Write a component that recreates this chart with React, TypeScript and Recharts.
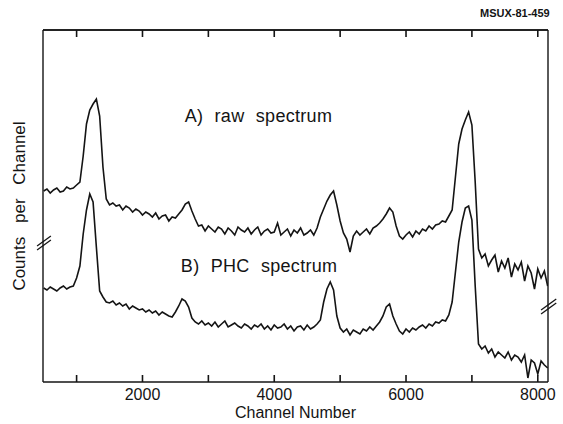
import { LineChart, Line, XAxis, YAxis, ReferenceLine, ReferenceDot } from "recharts";

// channel grid (every 50 channels)
const channels = [
  500, 550, 600, 650, 700, 750, 800, 850, 900, 950,
  1000, 1050, 1100, 1150, 1200, 1250, 1300, 1350, 1400, 1450,
  1500, 1550, 1600, 1650, 1700, 1750, 1800, 1850, 1900, 1950,
  2000, 2050, 2100, 2150, 2200, 2250, 2300, 2350, 2400, 2450,
  2500, 2550, 2600, 2650, 2700, 2750, 2800, 2850, 2900, 2950,
  3000, 3050, 3100, 3150, 3200, 3250, 3300, 3350, 3400, 3450,
  3500, 3550, 3600, 3650, 3700, 3750, 3800, 3850, 3900, 3950,
  4000, 4050, 4100, 4150, 4200, 4250, 4300, 4350, 4400, 4450,
  4500, 4550, 4600, 4650, 4700, 4750, 4800, 4850, 4900, 4950,
  5000, 5050, 5100, 5150, 5200, 5250, 5300, 5350, 5400, 5450,
  5500, 5550, 5600, 5650, 5700, 5750, 5800, 5850, 5900, 5950,
  6000, 6050, 6100, 6150, 6200, 6250, 6300, 6350, 6400, 6450,
  6500, 6550, 6600, 6650, 6700, 6750, 6800, 6850, 6900, 6950,
  7000, 7050, 7100, 7150, 7200, 7250, 7300, 7350, 7400, 7450,
  7500, 7550, 7600, 7650, 7700, 7750, 7800, 7850, 7900, 7950,
  8000, 8050, 8100, 8150,
];

// A) raw spectrum (arbitrary units, offset upward)
const rawCounts = [
  191, 193, 189, 192, 194, 190, 191, 195, 193, 194,
  197, 200, 226, 258, 272, 278, 283, 266, 215, 183,
  177, 179, 176, 177, 172, 176, 174, 170, 173, 171,
  167, 170, 168, 165, 169, 163, 166, 167, 161, 165,
  164, 168, 172, 178, 180, 171, 163, 156, 157, 151,
  156, 153, 150, 155, 153, 148, 154, 151, 147, 155,
  152, 150, 154, 148, 152, 155, 147, 151, 153, 149,
  150, 159, 147, 150, 153, 146, 152, 149, 154, 147,
  149, 152, 147, 154, 165, 173, 181, 187, 191, 177,
  161, 149, 143, 130, 146, 151, 147, 150, 153, 148,
  154, 156, 159, 163, 168, 174, 170, 156, 146, 143,
  147, 150, 145, 151, 148, 153, 151, 156, 153, 157,
  158, 161, 160, 166, 172, 205, 238, 253, 262, 270,
  257, 200, 133, 124, 128, 116, 122, 127, 110, 121,
  114, 124, 105, 118, 112, 120, 101, 116, 109, 93,
  113, 104, 111, 96,
];

// B) PHC spectrum
const phcCounts = [
  94, 92, 95, 93, 91, 94, 96, 93, 95, 96,
  104, 116, 148, 172, 188, 180, 135, 91, 85, 80,
  79, 81, 77, 79, 76, 78, 73, 76, 74, 72,
  73, 70, 72, 69, 71, 67, 70, 68, 66, 65,
  70, 76, 83, 81, 75, 64, 60, 58, 61, 57,
  59, 56, 60, 55, 58, 61, 55, 57, 59, 56,
  54, 58, 56, 53, 57, 55, 58, 53, 56, 52,
  57, 54, 55, 58, 53, 56, 51, 55, 56, 52,
  57, 53, 55, 58, 62, 80, 93, 100, 92, 66,
  54, 50, 53, 47, 52, 50, 48, 53, 51, 55,
  52, 56, 60, 66, 75, 78, 66, 58, 51, 48,
  53, 50, 54, 52, 55, 57, 54, 58, 56, 60,
  59, 62, 61, 67, 80, 110, 140, 160, 174, 176,
  162, 96, 38, 33, 36, 29, 33, 25, 30, 27,
  24, 30, 22, 27, 25, 20, 27, 4, 22, 19,
  8, 21, 17, 14,
];

const xTicks = [1000, 2000, 3000, 4000, 5000, 6000, 7000, 8000];
const labeledTicks = [2000, 4000, 6000, 8000];

// axis break marks "//" (channel, counts)
const leftBreak = [
  { x1: 400, y1: 136, x2: 610, y2: 146 },
  { x1: 400, y1: 132, x2: 610, y2: 142 },
];
const rightBreak = [
  { x1: 8050, y1: 72, x2: 8280, y2: 83 },
  { x1: 8050, y1: 68, x2: 8280, y2: 79 },
];

const data = channels.map((ch, i) => ({ ch, raw: rawCounts[i], phc: phcCounts[i] }));

const FONT = '"Liberation Sans", Arial, sans-serif';
const INK = "#141414";
const X_DOMAIN: [number, number] = [490, 8155];
const Y_DOMAIN: [number, number] = [0, 352];

// bottom axis: inward tick mark + label on every other tick
// (y arrives 4px below the axis line because of tickSize -6 / tickMargin 2)
function BottomTick({ x, y, payload }: any) {
  return (
    <g>
      <path d={`M${x},${y + 4}L${x},${y - 3}`} stroke={INK} strokeWidth={1.6} fill="none" />
      {labeledTicks.includes(payload.value) && (
        <text x={x} y={y + 22} textAnchor="middle" fontSize={16} fontFamily={FONT} fill={INK}>
          {payload.value}
        </text>
      )}
    </g>
  );
}

// top axis: inward tick mark only (y arrives 8px above the axis line)
function TopTick({ x, y }: any) {
  return <path d={`M${x},${y + 8}L${x},${y + 15}`} stroke={INK} strokeWidth={1.6} fill="none" />;
}

export default function App() {
  return (
    <div style={{ position: "absolute", left: 0, top: 0, width: 563, height: 424, background: "#fff" }}>
      <div
        style={{
          position: "absolute",
          left: 480,
          top: 7,
          fontFamily: FONT,
          fontWeight: 700,
          fontSize: 11,
          color: INK,
        }}
      >
        MSUX-81-459
      </div>
      <LineChart width={563} height={424} data={data} margin={{ top: 29, right: 15, left: 7, bottom: 0 }}>
        <XAxis
          dataKey="ch"
          type="number"
          domain={X_DOMAIN}
          ticks={xTicks}
          allowDataOverflow
          height={42}
          tickSize={-6}
          tick={BottomTick}
          tickLine={false}
          axisLine={{ stroke: INK, strokeWidth: 1.4 }}
          label={{ value: "Channel Number", position: "insideBottom", offset: 6, fontSize: 16, fontFamily: FONT, fill: INK }}
        />
        <XAxis
          xAxisId="top"
          orientation="top"
          dataKey="ch"
          type="number"
          domain={X_DOMAIN}
          ticks={xTicks}
          allowDataOverflow
          height={1}
          tick={TopTick}
          tickLine={false}
          axisLine={{ stroke: INK, strokeWidth: 1.4 }}
        />
        <YAxis
          type="number"
          domain={Y_DOMAIN}
          allowDataOverflow
          width={36}
          tick={false}
          tickLine={false}
          axisLine={{ stroke: INK, strokeWidth: 1.4 }}
          label={{
            value: "Counts per Channel",
            angle: -90,
            position: "insideLeft",
            offset: 12,
            fontSize: 17,
            fontFamily: FONT,
            fill: INK,
            style: { textAnchor: "middle", wordSpacing: 9 },
          }}
        />
        {/* frame: top and right border */}
        <ReferenceLine y={352} stroke={INK} strokeWidth={1.4} ifOverflow="visible" />
        <ReferenceLine x={8155} stroke={INK} strokeWidth={1.4} ifOverflow="visible" />
        <Line dataKey="raw" type="linear" stroke={INK} strokeWidth={1.6} dot={false} isAnimationActive={false} />
        <Line dataKey="phc" type="linear" stroke={INK} strokeWidth={1.6} dot={false} isAnimationActive={false} />
        {[...leftBreak, ...rightBreak].map((b, i) => (
          <ReferenceLine
            key={`br${i}`}
            segment={[{ x: b.x1, y: b.y1 }, { x: b.x2, y: b.y2 }]}
            stroke={INK}
            strokeWidth={1.3}
            ifOverflow="visible"
          />
        ))}
        <ReferenceDot
          x={3760}
          y={266}
          r={0}
          fill="none"
          stroke="none"
          ifOverflow="visible"
          label={{
            value: "A) raw spectrum",
            position: "center",
            fontSize: 18,
            fontFamily: FONT,
            fill: INK,
            style: { wordSpacing: 6, letterSpacing: 0.3 },
          }}
        />
        <ReferenceDot
          x={3770}
          y={116}
          r={0}
          fill="none"
          stroke="none"
          ifOverflow="visible"
          label={{
            value: "B) PHC spectrum",
            position: "center",
            fontSize: 18,
            fontFamily: FONT,
            fill: INK,
            style: { wordSpacing: 6, letterSpacing: 0.3 },
          }}
        />
      </LineChart>
    </div>
  );
}
